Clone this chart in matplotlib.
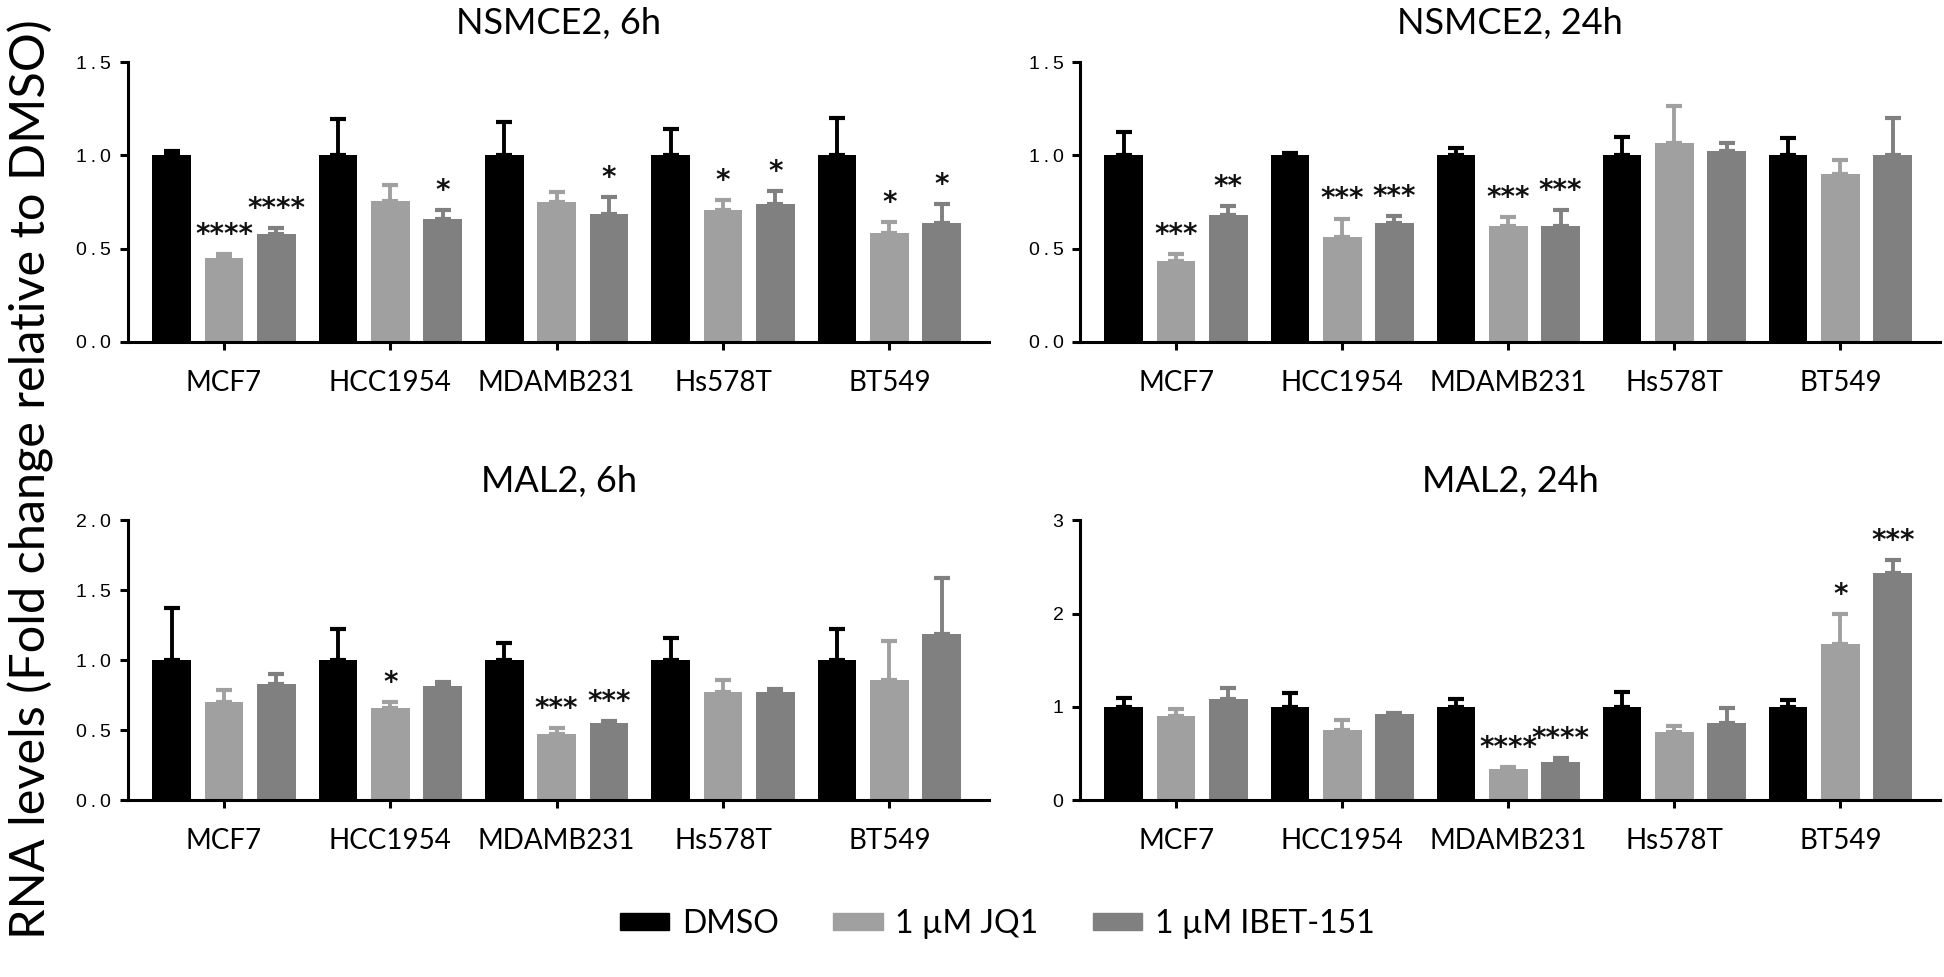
import numpy as np
import matplotlib
matplotlib.use("Agg")
import matplotlib.pyplot as plt
from matplotlib.patches import Patch

lines = ["MCF7", "HCC1954", "MDAMB231", "Hs578T", "BT549"]
treatments = ["DMSO", "1 µM JQ1", "1 µM IBET-151"]
colors = ["#000000", "#a0a0a0", "#808080"]

# means and upper error (mean + SEM), one list per treatment
nsmce2_6h = [[1.0, 1.0, 1.0, 1.0, 1.0],
             [0.452, 0.754, 0.748, 0.709, 0.583],
             [0.580, 0.658, 0.684, 0.738, 0.640]]
nsmce2_6h_top = [[1.023, 1.197, 1.179, 1.142, 1.200],
                 [0.473, 0.840, 0.803, 0.761, 0.642],
                 [0.610, 0.707, 0.778, 0.807, 0.739]]
nsmce2_6h_sig = [["", "", "", "", ""],
                 ["****", "", "", "*", "*"],
                 ["****", "*", "*", "*", "*"]]

nsmce2_24h = [[1.0, 1.0, 1.0, 1.0, 1.0],
              [0.433, 0.564, 0.624, 1.067, 0.901],
              [0.681, 0.635, 0.622, 1.025, 1.0]]
nsmce2_24h_top = [[1.124, 1.010, 1.039, 1.099, 1.092],
                  [0.470, 0.661, 0.667, 1.266, 0.973],
                  [0.729, 0.677, 0.707, 1.067, 1.202]]
nsmce2_24h_sig = [["", "", "", "", ""],
                  ["***", "***", "***", "", ""],
                  ["**", "***", "***", "", ""]]

mal2_6h = [[1.0, 1.0, 1.0, 1.0, 1.0],
           [0.700, 0.660, 0.476, 0.771, 0.856],
           [0.833, 0.814, 0.552, 0.771, 1.186]]
mal2_6h_top = [[1.375, 1.224, 1.125, 1.156, 1.222],
               [0.788, 0.698, 0.517, 0.861, 1.139],
               [0.903, 0.847, 0.568, 0.797, 1.585]]
mal2_6h_sig = [["", "", "", "", ""],
               ["", "*", "***", "", ""],
               ["", "", "***", "", ""]]

mal2_24h = [[1.0, 1.0, 1.0, 1.0, 1.0],
            [0.907, 0.757, 0.329, 0.729, 1.671],
            [1.086, 0.921, 0.414, 0.832, 2.432]]
mal2_24h_top = [[1.090, 1.150, 1.086, 1.160, 1.071],
                [0.979, 0.857, 0.354, 0.800, 1.993],
                [1.200, 0.929, 0.454, 0.986, 2.571]]
mal2_24h_sig = [["", "", "", "", ""],
                ["", "", "****", "", "*"],
                ["", "", "****", "", "***"]]

label_font = ["Lato", "DejaVu Sans"]
tick_font = ["Liberation Sans", "DejaVu Sans"]

fig = plt.figure(figsize=(19.44, 9.77), dpi=100)

panels = [
    ("NSMCE2, 6h", nsmce2_6h, nsmce2_6h_top, nsmce2_6h_sig, [0.0, 0.5, 1.0, 1.5], "{:.1f}", [0.0658, 0.650, 0.443, 0.2865]),
    ("NSMCE2, 24h", nsmce2_24h, nsmce2_24h_top, nsmce2_24h_sig, [0.0, 0.5, 1.0, 1.5], "{:.1f}", [0.5556, 0.650, 0.4424, 0.2865]),
    ("MAL2, 6h", mal2_6h, mal2_6h_top, mal2_6h_sig, [0.0, 0.5, 1.0, 1.5, 2.0], "{:.1f}", [0.0658, 0.181, 0.443, 0.2865]),
    ("MAL2, 24h", mal2_24h, mal2_24h_top, mal2_24h_sig, [0, 1, 2, 3], "{:d}", [0.5556, 0.181, 0.4424, 0.2865]),
]

x = np.arange(len(lines))
step = 0.315
width = 0.233

for title, vals, tops, sigs, yticks, fmt, pos in panels:
    ax = fig.add_axes(pos)
    for i in range(3):
        xi = x + (i - 1) * step
        v = np.array(vals[i])
        t = np.array(tops[i])
        ax.bar(xi, v, width, color=colors[i], zorder=2)
        ax.errorbar(xi, v, yerr=[np.zeros_like(v), t - v], fmt="none",
                    ecolor=colors[i], elinewidth=2.8, capsize=6, capthick=3, zorder=1)
        for k in range(len(lines)):
            if sigs[i][k]:
                ax.annotate(sigs[i][k], (xi[k], t[k]), xytext=(0, 8),
                            textcoords="offset points", ha="center", va="baseline",
                            fontsize=20, fontweight="bold", color="#111111")
    ax.set_xlim(-0.578, 4.6)
    ax.set_ylim(yticks[0], yticks[-1])
    ax.set_yticks(yticks)
    # the original software spaces the digits out a little
    ax.set_yticklabels(["\u2009".join(fmt.format(t)) for t in yticks],
                       fontsize=14, family=tick_font)
    ax.set_xticks(x)
    ax.set_xticklabels(lines, fontsize=20, family=label_font)
    ax.tick_params(axis="y", length=6, width=2.2, pad=6)
    ax.tick_params(axis="x", length=6, width=2.2, pad=14)
    for s in ["top", "right"]:
        ax.spines[s].set_visible(False)
    for s in ["left", "bottom"]:
        ax.spines[s].set_linewidth(2.2)
    ax.set_title(title, fontsize=26, family=label_font, pad=20)

fig.text(0.016, 0.51, "RNA levels (Fold change relative to DMSO)", rotation=90,
         ha="center", va="center", fontsize=35, family=label_font)

handles = [Patch(facecolor=c, edgecolor=c) for c in colors]
fig.legend(handles, treatments, loc="center", bbox_to_anchor=(0.513, 0.054), ncol=3,
           frameon=False, prop={"family": label_font, "size": 23},
           handlelength=1.55, handleheight=0.45, columnspacing=1.7, handletextpad=0.4)

fig.savefig("out.png", dpi=100)
